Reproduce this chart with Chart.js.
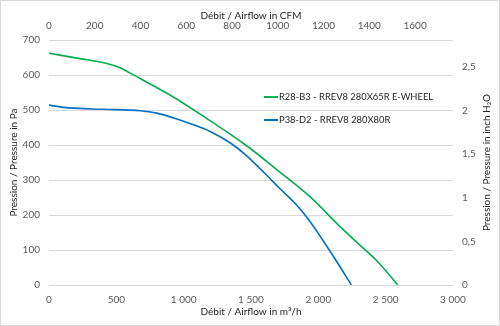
<!DOCTYPE html>
<html>
<head>
<meta charset="utf-8">
<script src="https://cdn.jsdelivr.net/npm/chart.js@4.4.1/dist/chart.umd.min.js"></script>
<style>
  body { margin: 0; background: #fff; }
  #mycanvas { display: block; }
</style>
</head>
<body>
<canvas id="mycanvas" width="500" height="326"></canvas>
<script>
// Data (m3/h, Pa)
var seriesNames = ["R28-B3 - RREV8 280X65R E-WHEEL", "P38-D2 - RREV8 280X80R"];
var seriesColors = ["#00B050", "#0070C0"];

var greenFlow     = [0, 240, 450, 520, 600, 700, 920, 1190, 1460, 1710, 1950, 2150, 2300, 2450, 2520, 2590];
var greenPressure = [662, 646, 631, 622, 606, 585, 538, 471, 400, 324, 248, 171, 117, 63, 32, 0];

var blueFlow      = [0, 150, 400, 680, 800, 920, 1050, 1200, 1350, 1460, 1600, 1710, 1840, 1930, 2030, 2140, 2245];
var bluePressure  = [514, 506, 502, 498, 491, 478, 461, 438, 405, 372, 320, 277, 228, 186, 130, 65, 0];

// Axis ticks
var flowTicks = [0, 500, 1000, 1500, 2000, 2500, 3000];
var cfmTicks = [0, 200, 400, 600, 800, 1000, 1200, 1400, 1600];
var paTicks = [0, 100, 200, 300, 400, 500, 600, 700];
var inchTicks = [0, 0.5, 1, 1.5, 2, 2.5];

var M3H_PER_CFM = 1.699;
var PA_PER_INCH = 249.089;

function toPoints(xs, ys) {
    var pts = [];
    for (var i in xs) {
        pts.push({ x: xs[i], y: ys[i] });
    }
    return pts;
}

var tickFont = { family: "Lato", size: 10 };
var titleFont = { family: "Lato", size: 10 };
var tickColor = "#595959";
var titleColor = "#262626";

// Frame, legend inside the plot and right axis title
var extras = {
    id: "extras",
    afterDraw: function(chart) {
        var ctx = chart.ctx;
        ctx.save();
        ctx.strokeStyle = "#d9d9d9";
        ctx.lineWidth = 1;
        ctx.strokeRect(0.5, 0.5, 499, 325);

        ctx.font = "9.4px Lato";
        ctx.textBaseline = "middle";
        ctx.fillStyle = "#262626";
        var rows = [97, 120];
        for (var i = 0; i < 2; i++) {
            ctx.strokeStyle = seriesColors[i];
            ctx.lineWidth = 2;
            ctx.beginPath();
            ctx.moveTo(264, rows[i]);
            ctx.lineTo(278, rows[i]);
            ctx.stroke();
            ctx.fillText(seriesNames[i], 279, rows[i]);
        }

        var area = chart.chartArea;
        ctx.font = "10px Lato";
        ctx.translate(487, (area.top + area.bottom) / 2);
        ctx.rotate(-Math.PI / 2);
        ctx.textAlign = "center";
        ctx.fillStyle = titleColor;
        ctx.fillText("Pression / Pressure in inch H\u2082O", 0, 0);
        ctx.restore();
    }
};

function spaced(v) {
    return String(v).replace(/\B(?=(\d{3})+(?!\d))/g, " ");
}

var ctx = document.getElementById("mycanvas");

var chart = new Chart(ctx, {
    type: "scatter",
    data: {
        datasets: [{
            label: seriesNames[0],
            data: toPoints(greenFlow, greenPressure),
            borderColor: seriesColors[0],
            backgroundColor: seriesColors[0],
            borderWidth: 1.6,
            showLine: true,
            cubicInterpolationMode: "monotone",
            pointRadius: 0
        }, {
            label: seriesNames[1],
            data: toPoints(blueFlow, bluePressure),
            borderColor: seriesColors[1],
            backgroundColor: seriesColors[1],
            borderWidth: 1.6,
            showLine: true,
            cubicInterpolationMode: "monotone",
            pointRadius: 0
        }]
    },
    options: {
        responsive: false,
        animation: false,
        layout: { padding: 0 },
        plugins: {
            legend: { display: false },
            tooltip: { enabled: false }
        },
        scales: {
            x: {
                type: "linear",
                position: "bottom",
                min: 0,
                max: 3000,
                afterBuildTicks: function(s) { s.ticks = flowTicks.map(function(v) { return { value: v }; }); },
                afterFit: function(s) { s.height = 41; },
                grid: { display: false, drawTicks: false },
                border: { display: false },
                ticks: { font: tickFont, color: tickColor, padding: 9, maxRotation: 0,
                    callback: function(v) { return spaced(v); } },
                title: { display: true, text: "Débit / Airflow in m³/h", font: titleFont, color: titleColor,
                    padding: { top: 0, bottom: 8 } }
            },
            x2: {
                type: "linear",
                position: "top",
                min: 0,
                max: 3000 / M3H_PER_CFM,
                afterBuildTicks: function(s) { s.ticks = cfmTicks.map(function(v) { return { value: v }; }); },
                afterFit: function(s) { s.height = 40; },
                grid: { display: false, drawTicks: false },
                border: { display: false },
                ticks: { font: tickFont, color: tickColor, padding: 8, maxRotation: 0,
                    callback: function(v) { return String(v); } },
                title: { display: true, text: "Débit / Airflow in CFM", font: titleFont, color: titleColor,
                    padding: { top: 10, bottom: 0 } }
            },
            y: {
                type: "linear",
                position: "left",
                min: 0,
                max: 700,
                afterBuildTicks: function(s) { s.ticks = paTicks.map(function(v) { return { value: v }; }); },
                afterFit: function(s) { s.width = 49; },
                grid: { color: "#d9d9d9", drawTicks: false },
                border: { display: false },
                ticks: { font: tickFont, color: tickColor, padding: 9 },
                title: { display: true, text: "Pression / Pressure in Pa", font: titleFont, color: titleColor,
                    padding: { top: 8, bottom: 0 } }
            },
            y2: {
                type: "linear",
                position: "right",
                min: 0,
                max: 700 / PA_PER_INCH,
                afterBuildTicks: function(s) { s.ticks = inchTicks.map(function(v) { return { value: v }; }); },
                afterFit: function(s) { s.width = 47; },
                grid: { display: false, drawTicks: false },
                border: { display: false },
                ticks: { font: tickFont, color: tickColor, padding: 9,
                    callback: function(v) { return String(v).replace(".", ","); } }
            }
        }
    },
    plugins: [extras]
});
</script>
</body>
</html>
